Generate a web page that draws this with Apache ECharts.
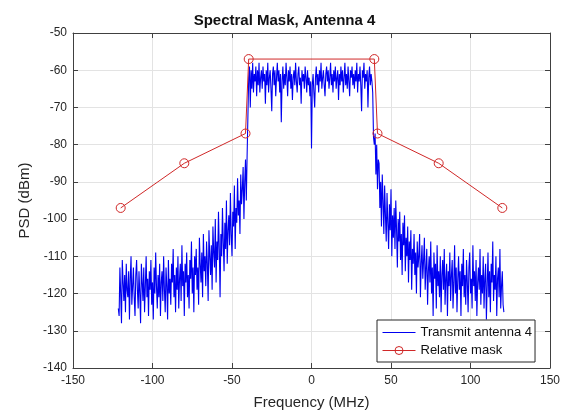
<!DOCTYPE html>
<html>
<head>
<meta charset="utf-8">
<script src="https://cdn.jsdelivr.net/npm/echarts@6/dist/echarts.min.js"></script>
<style>
html,body{margin:0;padding:0;background:#fff;}
#chart{width:569px;height:415px;}
</style>
</head>
<body>
<div id="chart"></div>
<script>
// ---- data ----
var titleText = 'Spectral Mask, Antenna 4';
var xTicks = [-150, -100, -50, 0, 50, 100, 150];
var yTicks = [-140, -130, -120, -110, -100, -90, -80, -70, -60, -50];

// lower out-of-band PSD (dBm), frequency -121.5 .. -40.5 MHz, step 0.5 MHz
var lowStart = -121.5, lowStep = 0.5;
var lowPSD = [
 -124,-126,-113,-120,-128,-111,-117,-122,-115,-125,
 -112,-119,-121,-114,-127,-116,-110,-123,-118,-113,
 -121,-126,-115,-111,-119,-124,-114,-120,-128,-112,
 -117,-122,-113,-125,-118,-110,-121,-116,-126,-114,
 -119,-111,-123,-117,-127,-113,-120,-109,-118,-124,
 -115,-121,-112,-126,-117,-114,-122,-110,-119,-125,
 -113,-118,-127,-111,-120,-116,-123,-112,-117,-108,
 -121,-115,-125,-113,-119,-110,-124,-116,-112,-122,
 -107,-118,-114,-126,-112,-117,-109,-121,-115,-124,
 -111,-116,-106,-120,-113,-125,-110,-115,-108,-119,
 -113,-123,-105,-112,-117,-109,-121,-104,-114,-110,
 -118,-106,-112,-122,-103,-110,-115,-107,-119,-102,
 -109,-113,-100,-117,-106,-111,-98,-108,-121,-104,
 -110,-97,-106,-114,-101,-108,-95,-112,-103,-99,
 -107,-93,-104,-110,-98,-102,-91,-108,-97,-101,
 -89,-99,-95,-104,-88,-96,-92,-86,-100,-90,
 -84,-95,-83
];

// in-band PSD (dBm), frequency -39.5 .. 39 MHz, step 0.5 MHz
var inStart = -39.5, inStep = 0.5;
var inPSD = [
 -62,-59,-70,-60,-65,-58,-66,-61,-63,-59,
 -67,-60,-64,-58,-66,-62,-60,-65,-59,-63,
 -61,-69,-60,-64,-58,-66,-62,-60,-65,-71,
 -61,-59,-64,-60,-67,-62,-58,-63,-60,-66,
 -61,-74,-63,-59,-65,-61,-64,-58,-62,-67,
 -60,-63,-59,-65,-61,-68,-62,-60,-64,-58,
 -63,-66,-61,-59,-64,-62,-69,-60,-63,-61,
 -65,-59,-62,-66,-60,-64,-62,-67,-63,-81,
 -64,-61,-66,-70,-62,-59,-64,-61,-66,-60,
 -63,-58,-65,-62,-60,-64,-67,-61,-59,-63,
 -60,-65,-62,-58,-64,-61,-66,-60,-63,-59,
 -65,-62,-60,-68,-61,-64,-59,-63,-60,-66,
 -62,-58,-64,-61,-65,-59,-63,-67,-60,-62,
 -59,-64,-61,-65,-60,-63,-58,-66,-61,-63,
 -59,-64,-71,-60,-62,-58,-65,-61,-63,-60,
 -70,-62,-59,-64,-61,-63,-66,-78
];

// upper transition (dBm), frequency 39.5 .. 42 MHz, step 0.5 MHz
var edgeStart = 39.5, edgeStep = 0.5;
var edgePSD = [-80, -77, -88, -80, -92, -84];

// upper out-of-band PSD (dBm), frequency 42.5 .. 121 MHz, step 0.5 MHz
var highStart = 42.5, highStep = 0.5;
var highPSD = [
 -85,-97,-90,-102,-88,-95,-104,-91,-99,-106,
 -93,-101,-108,-96,-103,-92,-110,-99,-105,-97,
 -108,-95,-103,-113,-100,-106,-98,-111,-104,-115,
 -101,-107,-99,-114,-105,-110,-102,-117,-106,-111,
 -103,-119,-108,-112,-104,-115,-109,-120,-106,-113,
 -110,-104,-121,-112,-107,-116,-111,-105,-119,-113,
 -108,-123,-114,-110,-117,-106,-120,-113,-126,-109,
 -116,-112,-124,-107,-118,-114,-121,-110,-125,-115,
 -111,-119,-108,-123,-116,-112,-126,-114,-118,-109,
 -122,-115,-111,-124,-117,-107,-120,-113,-125,-116,
 -110,-119,-114,-126,-112,-118,-108,-121,-115,-123,
 -111,-117,-125,-113,-109,-120,-116,-124,-107,-118,
 -114,-122,-111,-126,-117,-113,-119,-108,-123,-115,
 -120,-110,-124,-116,-112,-127,-118,-109,-121,-114,
 -125,-112,-117,-106,-122,-115,-119,-110,-126,-116,
 -113,-121,-108,-124,-118,-114,-123,-125
];

// relative mask
var maskFreq = [-120, -80, -41.5, -39.5, 39.5, 41.5, 80, 120];
var maskPSD  = [-97, -85, -77, -57, -57, -77, -85, -97];

// ---- build ----
function seg(start, step, vals) {
  return vals.map(function (v, i) { return [start + i * step, v]; });
}
var txData = [].concat(
  seg(lowStart, lowStep, lowPSD),
  seg(inStart, inStep, inPSD),
  seg(edgeStart, edgeStep, edgePSD),
  seg(highStart, highStep, highPSD)
);
var maskData = maskFreq.map(function (f, i) { return [f, maskPSD[i]]; });

var FONT = '"Liberation Sans", Arial, Helvetica, sans-serif';
var axisCol = '#404040';
var labCol = '#262626';
var blue = '#0000f0';
var red = '#d02828';

function baseAxis(extra) {
  var o = {
    type: 'value',
    axisLine: { show: true, onZero: false, lineStyle: { color: axisCol, width: 1 } },
    axisTick: { show: true, inside: true, length: 5, lineStyle: { color: axisCol } },
    splitLine: { show: false },
    axisLabel: { show: false }
  };
  for (var k in extra) o[k] = extra[k];
  return o;
}

var chart = echarts.init(document.getElementById('chart'), null, { renderer: 'canvas' });
chart.setOption({
  backgroundColor: '#ffffff',
  animation: false,
  title: {
    text: titleText,
    left: 'center',
    top: 8,
    textStyle: { fontFamily: FONT, fontSize: 15, fontWeight: 'bold', color: '#111' }
  },
  grid: { left: 73, right: 19, top: 33, bottom: 45, containLabel: false },
  legend: {
    orient: 'vertical',
    left: 377,
    top: 320,
    itemWidth: 33,
    itemHeight: 10,
    itemGap: 5,
    padding: [6, 3, 5, 5],
    backgroundColor: '#ffffff',
    borderColor: '#262626',
    borderWidth: 1,
    borderRadius: 0,
    lineStyle: { width: 1 },
    textStyle: { fontFamily: FONT, fontSize: 13, color: '#111' },
    data: [
      { name: 'Transmit antenna 4', itemStyle: { opacity: 0 } },
      { name: 'Relative mask', itemStyle: { borderWidth: 1, color: 'rgba(255,255,255,0)', borderColor: red } }
    ]
  },
  xAxis: [
    baseAxis({
      min: -150, max: 150, interval: 50, position: 'bottom',
      name: 'Frequency (MHz)', nameLocation: 'middle', nameGap: 27,
      nameTextStyle: { fontFamily: FONT, fontSize: 15, color: labCol },
      axisLabel: { show: true, margin: 7, fontFamily: FONT, fontSize: 12, color: labCol,
        formatter: function (v) { return xTicks.indexOf(v) >= 0 ? String(v) : ''; } },
      splitLine: { show: true, lineStyle: { color: '#e3e3e3', width: 1 } }
    }),
    baseAxis({ min: -150, max: 150, interval: 50, position: 'top' })
  ],
  yAxis: [
    baseAxis({
      min: -140, max: -50, interval: 10, position: 'left',
      name: 'PSD (dBm)', nameLocation: 'middle', nameGap: 40,
      nameTextStyle: { fontFamily: FONT, fontSize: 15, color: labCol },
      axisLabel: { show: true, margin: 6, fontFamily: FONT, fontSize: 12, color: labCol,
        formatter: function (v) { return yTicks.indexOf(v) >= 0 ? String(v) : ''; } },
      splitLine: { show: true, lineStyle: { color: '#e3e3e3', width: 1 } }
    }),
    baseAxis({ min: -140, max: -50, interval: 10, position: 'right' })
  ],
  series: [
    {
      name: 'Transmit antenna 4',
      type: 'line',
      xAxisIndex: 0, yAxisIndex: 0,
      data: txData,
      showSymbol: false,
      symbol: 'none',
      sampling: null,
      lineStyle: { color: blue, width: 1.1 },
      itemStyle: { color: blue },
      z: 2
    },
    {
      name: 'Relative mask',
      type: 'line',
      xAxisIndex: 0, yAxisIndex: 0,
      data: maskData,
      symbol: 'circle',
      symbolSize: 9,
      showSymbol: true,
      lineStyle: { color: red, width: 1 },
      itemStyle: { color: 'rgba(255,255,255,0)', borderColor: red, borderWidth: 1 },
      z: 3
    }
  ]
});
</script>
</body>
</html>
